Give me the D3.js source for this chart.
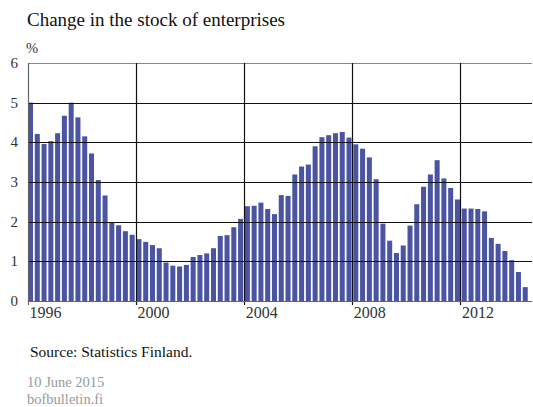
<!DOCTYPE html>
<html>
<head>
<meta charset="utf-8">
<script src="https://cdn.jsdelivr.net/npm/d3@7"></script>
<style>
  body { margin: 0; background: #fff; }
  text { font-family: "Liberation Serif", "DejaVu Serif", serif; }
</style>
</head>
<body>
<div id="chart"></div>
<script>
// quarterly change in the stock of enterprises, %, 1996Q1..2014Q2
const startYear = 1996;
const values = [
  5.00, 4.21, 3.96, 4.03,
  4.23, 4.67, 5.00, 4.63,
  4.15, 3.72, 3.05, 2.66,
  1.98, 1.91, 1.76, 1.67,
  1.56, 1.49, 1.41, 1.33,
  0.97, 0.89, 0.87, 0.91,
  1.11, 1.16, 1.20, 1.33,
  1.64, 1.66, 1.86, 2.07,
  2.39, 2.40, 2.48, 2.32,
  2.19, 2.67, 2.65, 3.19,
  3.39, 3.44, 3.90, 4.13,
  4.18, 4.23, 4.26, 4.12,
  3.95, 3.84, 3.62, 3.07,
  1.95, 1.52, 1.21, 1.40,
  1.90, 2.44, 2.88, 3.19,
  3.55, 3.09, 2.85, 2.56,
  2.33, 2.33, 2.32, 2.26,
  1.59, 1.44, 1.26, 1.03,
  0.73, 0.35
];
const yTicks = [0, 1, 2, 3, 4, 5, 6];
const yearLabels = [1996, 2000, 2004, 2008, 2012];
const yearLines = [2000, 2004, 2008, 2012];

const W = 533, H = 407;
const plotLeft = 28, plotRight = 528, plotTop = 63, plotBottom = 301;

const quarters = values.map((v, i) => startYear + i / 4);

const svg = d3.select("#chart").append("svg")
  .attr("width", W).attr("height", H);

const x = d3.scaleLinear()
  .domain([startYear, startYear + values.length / 4])
  .range([plotLeft, plotRight]);

const band = d3.scaleBand()
  .domain(quarters)
  .range([plotLeft, plotRight])
  .paddingInner(0.26)
  .paddingOuter(0.02)
  .align(0);

const y = d3.scaleLinear().domain([0, 6]).range([plotBottom, plotTop]);

// title
svg.append("text").attr("x", 27).attr("y", 26)
  .attr("font-size", 19).attr("fill", "#111")
  .text("Change in the stock of enterprises");

svg.append("text").attr("x", 26).attr("y", 53)
  .attr("font-size", 14.5).attr("fill", "#333").text("%");

// bars
svg.append("g").selectAll("rect").data(values).join("rect")
  .attr("x", (d, i) => band(quarters[i]))
  .attr("width", band.bandwidth())
  .attr("y", d => y(d))
  .attr("height", d => y(0) - y(d))
  .attr("fill", "#4a54a2");

// horizontal grid
svg.append("g").selectAll("line").data(yTicks.filter(t => t > 0)).join("line")
  .attr("x1", plotLeft).attr("x2", 532)
  .attr("y1", d => Math.round(y(d)) + 0.5).attr("y2", d => Math.round(y(d)) + 0.5)
  .attr("stroke", d => d === 6 ? "#888" : "#111").attr("stroke-width", 1.2);

// vertical year lines
svg.append("g").selectAll("line").data(yearLines).join("line")
  .attr("x1", d => Math.round(x(d)) + 0.5).attr("x2", d => Math.round(x(d)) + 0.5)
  .attr("y1", plotTop).attr("y2", plotBottom + 4)
  .attr("stroke", "#111").attr("stroke-width", 1.2);

// axes lines
svg.append("line")
  .attr("x1", plotLeft + 0.5).attr("x2", plotLeft + 0.5)
  .attr("y1", plotTop).attr("y2", plotBottom + 4)
  .attr("stroke", "#666").attr("stroke-width", 1.2);
svg.append("line")
  .attr("x1", plotLeft).attr("x2", 532)
  .attr("y1", plotBottom + 0.5).attr("y2", plotBottom + 0.5)
  .attr("stroke", "#666").attr("stroke-width", 1.2);

// y labels
svg.append("g").selectAll("text").data(yTicks).join("text")
  .attr("x", 18).attr("y", d => y(d) + 5)
  .attr("text-anchor", "end")
  .attr("font-size", 15).attr("fill", "#333")
  .text(d => d);

// x labels
svg.append("g").selectAll("text").data(yearLabels).join("text")
  .attr("x", d => x(d) + 1.5).attr("y", plotBottom + 17)
  .attr("font-size", 16).attr("fill", "#333")
  .text(d => d);

// footer
svg.append("text").attr("x", 30).attr("y", 357)
  .attr("font-size", 15.5).attr("fill", "#111")
  .text("Source: Statistics Finland.");
svg.append("text").attr("x", 27).attr("y", 387)
  .attr("font-size", 14.5).attr("fill", "#999").text("10 June 2015");
svg.append("text").attr("x", 27).attr("y", 404)
  .attr("font-size", 14.5).attr("fill", "#999").text("bofbulletin.fi");
</script>
</body>
</html>
